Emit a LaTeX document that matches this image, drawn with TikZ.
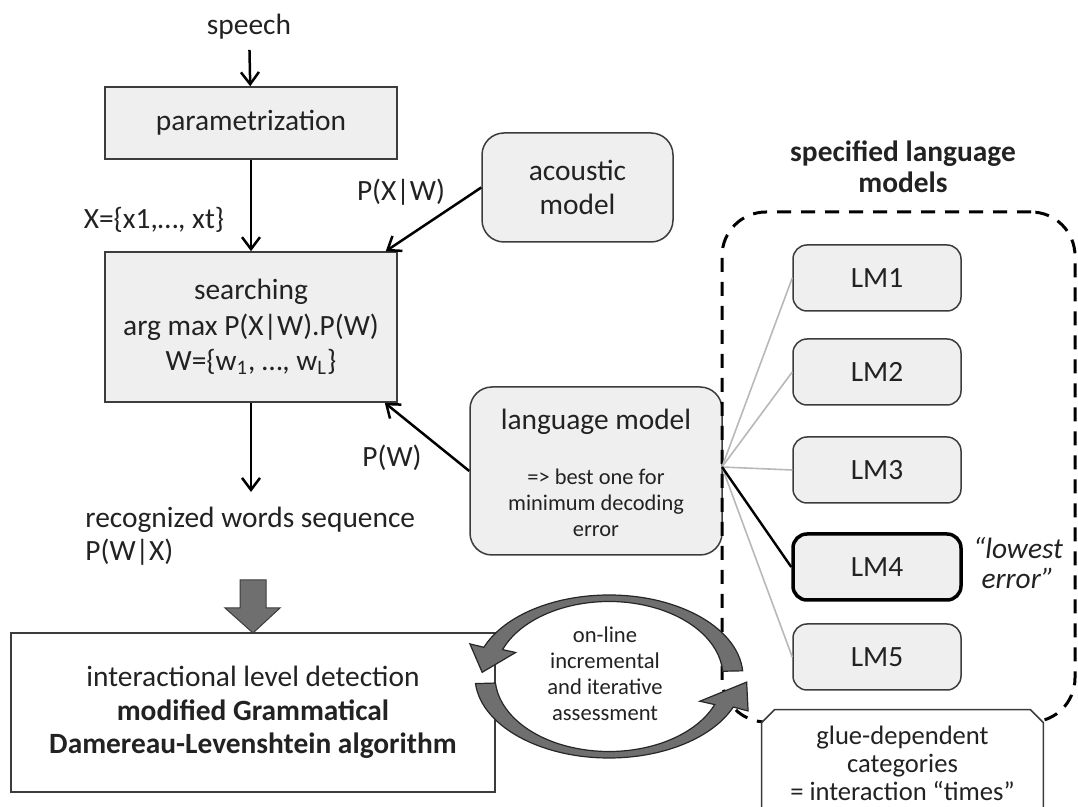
\documentclass[tikz,border=0pt]{standalone}
\usepackage{fontspec}
\setmainfont{Carlito}
\usetikzlibrary{arrows.meta,calc}
\definecolor{boxfill}{HTML}{EFEFEF}
\definecolor{boxline}{HTML}{3C3C3C}
\definecolor{ringfill}{HTML}{6F6F6F}
\definecolor{fanline}{HTML}{B8B8B8}
\definecolor{txt}{HTML}{222222}
\begin{document}
\begin{tikzpicture}[x=0.5pt,y=-0.5pt,
  font=\fontsize{14.7}{17.9}\selectfont,
  every node/.style={inner sep=0pt, text=txt},
  box/.style={draw=boxline, line width=0.75pt, fill=boxfill, align=center},
  rbox/.style={box, rounded corners=11pt},
  lmbox/.style={box, rounded corners=7pt, minimum width=84pt, minimum height=33pt},
  arr/.style={draw=black, line width=1.25pt, -{Straight Barb[length=6pt,width=9pt,line width=1.25pt]}},
  fan/.style={draw=fanline, line width=0.8pt},
  ring/.style={fill=ringfill, draw=black!85, line width=0.6pt},
  grpbox/.style={draw=black, line width=1.5pt, dash pattern=on 7pt off 5pt, rounded corners=22pt}
]
\useasboundingbox (0,0) rectangle (1078,807);
\clip (0,0) rectangle (1078,807);

% left column
\node[inner sep=5pt] (speech) at (249,27) {speech};
\node[box, minimum width=146pt, minimum height=36pt] (param) at (251,123) {parametrization};
\node[box, minimum width=146pt, minimum height=75pt, font=\fontsize{14.7}{17.75}\selectfont] (srch) at (251,327)
  {searching\\arg max P(X|W).P(W)\\W=\{w\textsubscript{1}, …, w\textsubscript{L}\}};
\node (xl) at (154,220) {X=\{x1,…, xt\}};
\node (pxw) at (401,192) {P(X|W)};
\node (pw) at (392,458) {P(W)};
\coordinate (recarr) at (251,492);
\node[anchor=west, align=left, font=\fontsize{14.7}{16.5}\selectfont] (rec) at (85,536) {recognized words sequence\\P(W|X)};

% models
\node[rbox, minimum width=95.5pt, minimum height=54.5pt, font=\fontsize{14.7}{17}\selectfont] (ac) at (577.5,187.5) {acoustic\\model};
\node[rbox, minimum width=126pt, minimum height=84pt] (lm) at (596,471) {};
\node (lmt) at (596,422) {language model};
\node[font=\fontsize{11.2}{13}\selectfont, align=center] (lms) at (596,503) {=> best one for\\minimum decoding\\error};

% arrows
\draw[arr] (speech) -- (param);
\draw[arr] (param) -- (srch);
\draw[arr] (srch) -- (recarr);
\draw[arr] (ac.west) -- ($(srch.north east)+(-12,0)$);
\draw[arr] (lm.west) -- ($(srch.south east)+(-13,0)$);

% big gray arrow
\filldraw[fill=ringfill, draw=boxline, line width=0.5pt] (240,580) -- (266,580) -- (266,608) -- (280,608) -- (253,633) -- (225,608) -- (240,608) -- cycle;

% interaction box
\node[box, fill=white, minimum width=242pt, minimum height=79.5pt, font=\fontsize{14.7}{16.75}\selectfont] (inter) at (253,712.5)
  {interactional level detection\\\textbf{modified Grammatical}\\\textbf{Damereau-Levenshtein algorithm}};

% specified language models group
\node[grpbox, minimum width=176.5pt, minimum height=255pt] (grp) at (898.5,467) {};
\node[font=\bfseries\fontsize{14.7}{15.5}\selectfont, align=center] (title) at (903,167) {specified language\\models};

\node[lmbox] (lm1) at (877,278) {LM1};
\node[lmbox] (lm2) at (877,372) {LM2};
\node[lmbox] (lm3) at (877,470) {LM3};
\node[lmbox, draw=black, line width=1.75pt] (lm4) at (877,567) {LM4};
\node[lmbox] (lm5) at (877,657) {LM5};
\node[font=\itshape\fontsize{14.7}{15}\selectfont, align=center] (low) at (1018,563) {``lowest\\error''};

\coordinate (fanpt) at (722,467);
\draw[fan] (fanpt) -- (lm1.west);
\draw[fan] (fanpt) -- (lm2.west);
\draw[fan] (fanpt) -- (lm3.west);
\draw[fan] (fanpt) -- (lm5.west);
\draw[line width=1.2pt] (fanpt) -- (lm4.west);

% ring of arrows
\coordinate (C) at (609,676.5);
\filldraw[ring] ($(C)+(-4:134 and 81.5)$) arc[start angle=-4, end angle=-159, x radius=134, y radius=81.5]
  -- ($(C)+(-159:149 and 91)$) -- ($(C)+(-177:127 and 80)$) -- ($(C)+(-159:100 and 67)$)
  -- ($(C)+(-159:114 and 75)$) arc[start angle=-159, end angle=-4, x radius=114, y radius=75] -- cycle;
\filldraw[ring] ($(C)+(175:134 and 81.5)$) arc[start angle=175, end angle=22, x radius=134, y radius=81.5]
  -- ($(C)+(22:150 and 92)$) -- ($(C)+(4:138 and 80)$) -- ($(C)+(22:98 and 66)$)
  -- ($(C)+(22:114 and 75)$) arc[start angle=22, end angle=175, x radius=114, y radius=75] -- cycle;
\node[font=\fontsize{11.3}{13}\selectfont, align=center] (ringtxt) at (605,674) {on-line\\incremental\\and iterative\\assessment};

% glue box
\node[minimum width=140.5pt, minimum height=57pt] (glue) at (902.5,767) {};
\filldraw[fill=white, draw=boxline, line width=0.75pt]
  ($(glue.north west)+(0,13)$) -- ($(glue.north west)+(13,0)$) -- ($(glue.north east)+(-13,0)$)
  -- ($(glue.north east)+(0,13)$) -- (glue.south east) -- (glue.south west) -- cycle;
\node[font=\fontsize{13.3}{14}\selectfont, align=center] (gluetxt) at (902.5,763) {glue-dependent\\categories\\= interaction “times”};
\end{tikzpicture}
\end{document}
